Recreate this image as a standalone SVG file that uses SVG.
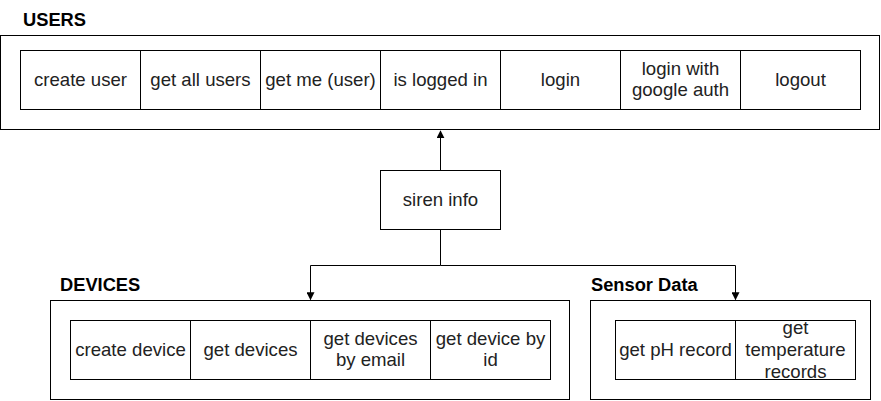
<svg xmlns="http://www.w3.org/2000/svg" width="881" height="401" viewBox="0 0 881 401">
<style>
.box{fill:#fff;stroke:#000;stroke-width:1}
.t{font-family:"Liberation Sans",Arial,sans-serif;font-size:18.6px;fill:#222;text-anchor:middle}
.h{font-family:"Liberation Sans",Arial,sans-serif;font-size:18.3px;font-weight:bold;fill:#000}
.c{fill:none;stroke:#000;stroke-width:1}
</style>
<defs>
<marker id="arr" viewBox="0 0 10 10" refX="9" refY="5" markerWidth="8" markerHeight="8" markerUnits="userSpaceOnUse" orient="auto">
<path d="M0,0 L10,5 L0,10 Z" fill="#000"/>
</marker>
</defs>
<rect width="881" height="401" fill="#fff"/>
<g id="users">
<text class="h" x="23" y="26">USERS</text>
<rect class="box" x="0.5" y="35.5" width="879" height="94"/>
<g id="create-user"><rect class="box" x="20.5" y="50.5" width="120" height="59"/><text class="t" x="80.5" y="86">create user</text></g>
<g id="get-all-users"><rect class="box" x="140.5" y="50.5" width="120" height="59"/><text class="t" x="200.5" y="86">get all users</text></g>
<g id="get-me"><rect class="box" x="260.5" y="50.5" width="120" height="59"/><text class="t" x="320.5" y="86">get me (user)</text></g>
<g id="is-logged-in"><rect class="box" x="380.5" y="50.5" width="120" height="59"/><text class="t" x="440.5" y="86">is logged in</text></g>
<g id="login"><rect class="box" x="500.5" y="50.5" width="120" height="59"/><text class="t" x="560.5" y="86">login</text></g>
<g id="login-google"><rect class="box" x="620.5" y="50.5" width="120" height="59"/><text class="t" x="680.5" y="75">login with</text><text class="t" x="680.5" y="96">google auth</text></g>
<g id="logout"><rect class="box" x="740.5" y="50.5" width="120" height="59"/><text class="t" x="800.5" y="86">logout</text></g>
</g>
<g id="siren-info"><rect class="box" x="380.5" y="170.5" width="120" height="59"/><text class="t" x="440.5" y="206">siren info</text></g>
<g id="devices">
<text class="h" x="60" y="291">DEVICES</text>
<rect class="box" x="50.5" y="300.5" width="519" height="99"/>
<g id="create-device"><rect class="box" x="70.5" y="320.5" width="120" height="59"/><text class="t" x="130.5" y="356">create device</text></g>
<g id="get-devices"><rect class="box" x="190.5" y="320.5" width="120" height="59"/><text class="t" x="250.5" y="356">get devices</text></g>
<g id="get-devices-email"><rect class="box" x="310.5" y="320.5" width="120" height="59"/><text class="t" x="370.5" y="345">get devices</text><text class="t" x="370.5" y="366">by email</text></g>
<g id="get-device-id"><rect class="box" x="430.5" y="320.5" width="120" height="59"/><text class="t" x="490.5" y="345">get device by</text><text class="t" x="490.5" y="366">id</text></g>
</g>
<g id="sensor-data">
<text class="h" x="591" y="291">Sensor Data</text>
<rect class="box" x="590.5" y="300.5" width="280" height="99"/>
<g id="get-ph"><rect class="box" x="615.5" y="320.5" width="120" height="59"/><text class="t" x="675.5" y="356">get pH record</text></g>
<g id="get-temp"><rect class="box" x="735.5" y="320.5" width="120" height="59"/><text class="t" x="795.5" y="334">get</text><text class="t" x="795.5" y="356">temperature</text><text class="t" x="795.5" y="378">records</text></g>
</g>
<g id="connectors">
<path class="c" d="M440.5,170 L440.5,131" marker-end="url(#arr)"/>
<path class="c" d="M440.5,230 L440.5,265.5 L310.5,265.5 L310.5,299.5" marker-end="url(#arr)"/>
<path class="c" d="M440.5,265.5 L735.5,265.5 L735.5,299.5" marker-end="url(#arr)"/>
</g>
</svg>
